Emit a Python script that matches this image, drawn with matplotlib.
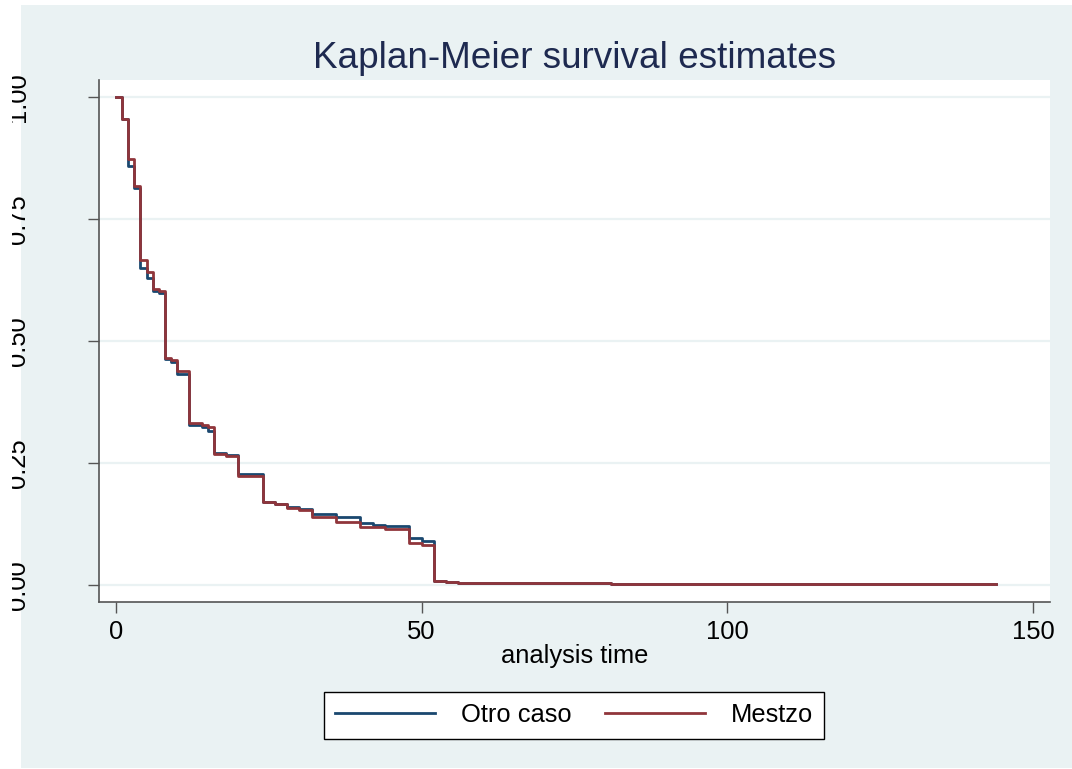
import matplotlib
matplotlib.use("Agg")
import matplotlib.pyplot as plt
from matplotlib.patches import Rectangle
from matplotlib.transforms import Bbox, TransformedBbox

plt.rcParams['font.family'] = ['Liberation Sans', 'DejaVu Sans']

# step times (analysis time) and KM survival estimates
times = [0, 1, 2, 3, 4, 5, 6, 7, 8, 9, 10, 12, 14, 15, 16, 18, 20, 24, 26, 28,
         30, 32, 36, 40, 42, 44, 48, 50, 52, 54, 56, 60, 81, 96, 104, 144]
otro = [1.0, 0.955, 0.859, 0.813, 0.650, 0.629, 0.603, 0.598, 0.463, 0.457,
        0.432, 0.328, 0.324, 0.316, 0.270, 0.266, 0.227, 0.170, 0.167, 0.160,
        0.156, 0.145, 0.139, 0.127, 0.123, 0.121, 0.096, 0.090, 0.009, 0.006,
        0.004, 0.004, 0.003, 0.002, 0.0015, 0.0015]
mestizo = [1.0, 0.955, 0.873, 0.818, 0.666, 0.641, 0.607, 0.602, 0.465, 0.461,
           0.438, 0.332, 0.328, 0.324, 0.268, 0.264, 0.223, 0.170, 0.167, 0.158,
           0.154, 0.140, 0.129, 0.119, 0.119, 0.115, 0.086, 0.082, 0.008, 0.006,
           0.005, 0.004, 0.003, 0.002, 0.0015, 0.0015]
labels = ["Otro caso", "Mestzo"]
xticks = [0, 50, 100, 150]
yticks = [0.0, 0.25, 0.5, 0.75, 1.0]

bg = '#eaf2f3'
W, H = 1072, 769
fig = plt.figure(figsize=(W / 100, H / 100), dpi=100, facecolor='white')
fig.patches.append(Rectangle((21 / W, 1 / H), 1, 763 / H, transform=fig.transFigure,
                             facecolor=bg, edgecolor='none', zorder=-1))

ax = fig.add_axes([99 / W, (H - 602) / H, (1050 - 99) / W, (602 - 80) / H])
ax.set_facecolor('white')

ax.plot(times, otro, drawstyle='steps-post', color='#1a476f', lw=2.0, label=labels[0])
ax.plot(times, mestizo, drawstyle='steps-post', color='#90353b', lw=2.0, label=labels[1])

ax.set_xlim(-2.78, 152.8)
ax.set_ylim(-0.0348, 1.0348)
ax.set_xticks(xticks)
ax.set_yticks(yticks)
ax.set_yticklabels(["%.2f" % v for v in yticks], rotation=90, va='center')
ax.yaxis.grid(True, color=bg, lw=1.6)
ax.set_axisbelow(True)

for s in ['top', 'right']:
    ax.spines[s].set_visible(False)
for s in ['left', 'bottom']:
    ax.spines[s].set_color('#555555')
    ax.spines[s].set_linewidth(1.2)
ax.tick_params(axis='both', direction='out', length=8, width=1, color='#555555',
               labelsize=18.4, labelcolor='black')
ax.tick_params(axis='x', pad=5)
ax.tick_params(axis='y', pad=41.5)

# the reference has its y labels cut off at the left edge
clip = TransformedBbox(Bbox([[12 / W, 0], [1, 1]]), fig.transFigure)
for t in ax.get_yticklabels():
    t.set_clip_box(clip)
    t.set_clip_on(True)

ax.set_xlabel("analysis time", fontsize=18.4, labelpad=0)
ax.set_title("Kaplan-Meier survival estimates", fontsize=26.6, color='#1e2a50', pad=9)

leg = fig.legend(loc='center', bbox_to_anchor=(574 / W, 1 - 715 / H), ncol=2,
                 fontsize=18.4, frameon=True, fancybox=False, edgecolor='black',
                 facecolor='white', framealpha=1, handlelength=3.9,
                 handletextpad=1.0, columnspacing=1.33, borderpad=0.45)
leg.get_frame().set_linewidth(1.0)

fig.savefig("out.png", dpi=100, facecolor='white')
